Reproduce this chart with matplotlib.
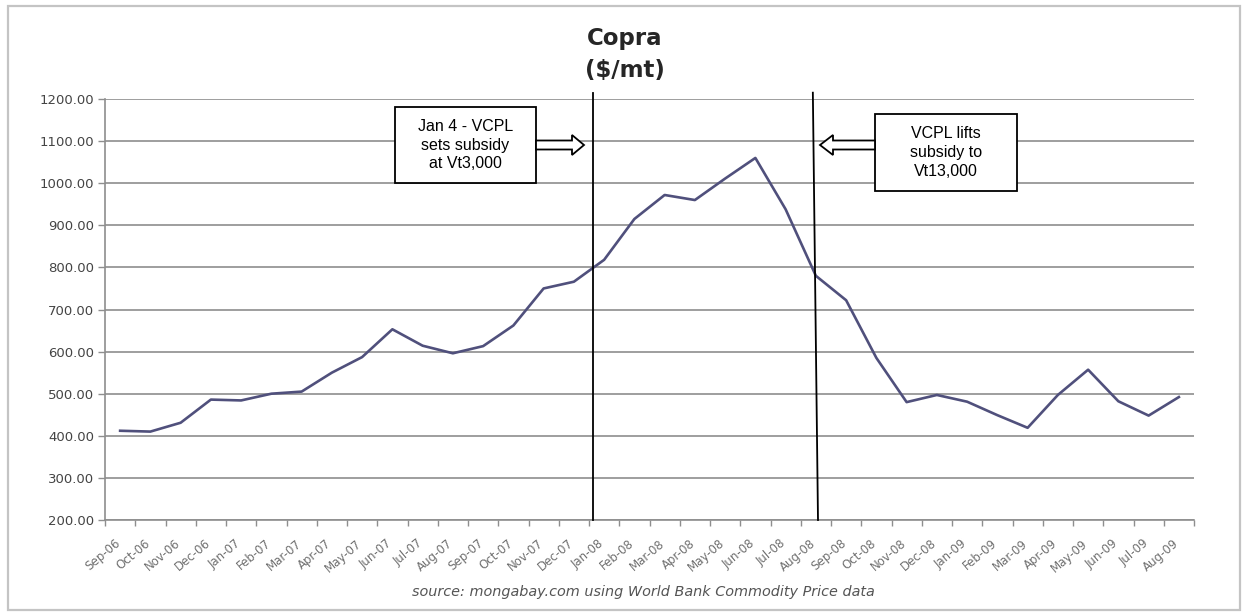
import numpy as np
import matplotlib.pyplot as plt
from matplotlib.patches import Rectangle, FancyArrow
from matplotlib.transforms import ScaledTranslation

# monthly copra price, $/mt
months = ['Sep-06', 'Oct-06', 'Nov-06', 'Dec-06', 'Jan-07', 'Feb-07', 'Mar-07', 'Apr-07',
          'May-07', 'Jun-07', 'Jul-07', 'Aug-07', 'Sep-07', 'Oct-07', 'Nov-07', 'Dec-07',
          'Jan-08', 'Feb-08', 'Mar-08', 'Apr-08', 'May-08', 'Jun-08', 'Jul-08', 'Aug-08',
          'Sep-08', 'Oct-08', 'Nov-08', 'Dec-08', 'Jan-09', 'Feb-09', 'Mar-09', 'Apr-09',
          'May-09', 'Jun-09', 'Jul-09', 'Aug-09']
prices = [412, 410, 431, 486, 484, 500, 505, 550, 587, 653, 614, 596,
          613, 662, 750, 766, 818, 915, 972, 960, 1011, 1060, 938, 780,
          722, 585, 480, 497, 481, 449, 419, 497, 557, 482, 448, 492]

# subsidy events, in category units (bottom, top)
event1_x = (15.63, 15.63)
event2_x = (23.07, 22.9)
event_y = (200, 1215)
event1_text = 'Jan 4 - VCPL\nsets subsidy\nat Vt3,000'
event2_text = 'VCPL lifts\nsubsidy to\nVt13,000'

W, H = 1247, 615
fig = plt.figure(figsize=(W / 100, H / 100), dpi=100)


def fx(x):
    return x / W


def fy(y):
    return 1 - y / H


# outer frame
fig.patches.append(Rectangle((fx(8), fy(610)), fx(1240) - fx(8), fy(6) - fy(610),
                             transform=fig.transFigure, fill=False,
                             edgecolor='#c4c4c4', linewidth=1.6))

ax = fig.add_axes([fx(105), fy(520), fx(1194) - fx(105), fy(99) - fy(520)])
x = np.arange(len(months))
ax.plot(x, prices, color='#50507c', linewidth=1.9, solid_joinstyle='round')

ax.set_xlim(-0.5, len(months) - 0.5)
ax.set_ylim(200, 1200)
ax.set_yticks(np.arange(200, 1201, 100))
ax.set_yticklabels(['%.2f' % v for v in np.arange(200, 1201, 100)])
ax.yaxis.grid(True, color='#8e8e8e', linewidth=1.2)
ax.set_axisbelow(True)

ax.set_xticks(x)
ax.set_xticklabels(months, rotation=40, ha='right', va='top', rotation_mode='anchor')
ax.set_xticks(np.arange(-0.5, len(months)), minor=True)
ax.tick_params(axis='x', which='major', length=0, pad=12, labelsize=8.5, labelcolor='#707070')
ax.tick_params(axis='x', which='minor', length=4, color='#8e8e8e', width=1)
ax.tick_params(axis='y', length=5, color='#8e8e8e', width=1, labelsize=9.5,
               labelcolor='#444444', pad=3)
for lab in ax.get_xticklabels():
    lab.set_transform(lab.get_transform() + ScaledTranslation(-0.06, 0, fig.dpi_scale_trans))

for s in ['top', 'right']:
    ax.spines[s].set_visible(False)
for s in ['left', 'bottom']:
    ax.spines[s].set_color('#8e8e8e')
    ax.spines[s].set_linewidth(1.2)

# event lines
ax.plot(event1_x, event_y, color='black', linewidth=1.3, clip_on=False, zorder=4)
ax.plot(event2_x, event_y, color='black', linewidth=1.3, clip_on=False, zorder=4)

# title
fig.text(fx(625), fy(38), 'Copra', ha='center', va='center', fontsize=16.5,
         fontweight='bold', color='#262626')
fig.text(fx(625), fy(70), '($/mt)', ha='center', va='center', fontsize=16.5,
         fontweight='bold', color='#262626')

# annotation boxes
for (x0, y0, x1, y1), txt in [((395, 107, 536, 183), event1_text),
                              ((875, 114, 1017, 191), event2_text)]:
    fig.patches.append(Rectangle((fx(x0), fy(y1)), fx(x1) - fx(x0), fy(y0) - fy(y1),
                                 transform=fig.transFigure, facecolor='white',
                                 edgecolor='black', linewidth=1.3, zorder=5))
    fig.text(fx((x0 + x1) / 2), fy((y0 + y1) / 2), txt, ha='center', va='center',
             fontsize=11.5, family='Liberation Sans', linespacing=1.3, zorder=6)

# hollow block arrows
fig.patches.append(FancyArrow(fx(536), fy(145), fx(584) - fx(536), 0,
                              width=9 / H, head_width=20 / H, head_length=12 / W,
                              length_includes_head=True, transform=fig.transFigure,
                              facecolor='white', edgecolor='black', linewidth=1.3, zorder=5))
fig.patches.append(FancyArrow(fx(875), fy(145), fx(820) - fx(875), 0,
                              width=9 / H, head_width=20 / H, head_length=13 / W,
                              length_includes_head=True, transform=fig.transFigure,
                              facecolor='white', edgecolor='black', linewidth=1.3, zorder=5))

fig.text(fx(643), fy(592), 'source: mongabay.com using World Bank Commodity Price data',
         ha='center', va='center', fontsize=10.4, style='italic', color='#555555')

fig.savefig('out.png', dpi=100, facecolor='white')
